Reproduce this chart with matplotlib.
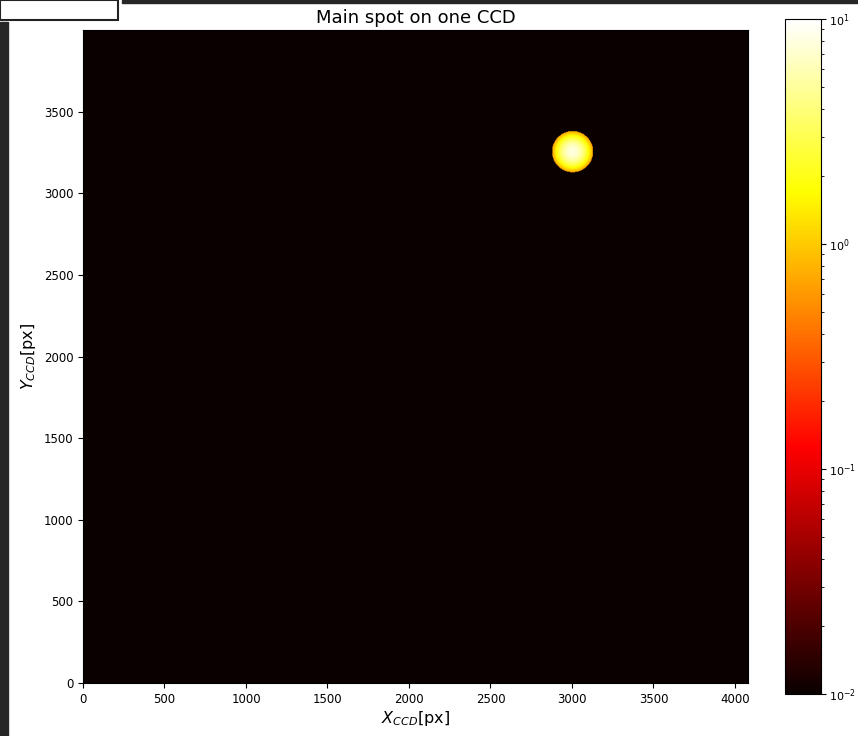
import numpy as np
import matplotlib
matplotlib.use('Agg')
import matplotlib.pyplot as plt
from matplotlib.colors import LogNorm
from matplotlib.patches import Rectangle

# CCD size in pixels
ccd_nx = 4080
ccd_ny = 4000
step = 4  # coarse sampling of the CCD grid

# main spot parameters
spot_x = 3004
spot_y = 3255
spot_radius = 126
spot_peak = 8.0
spot_sigma = 56.0
background = 1e-3

vmin, vmax = 1e-2, 1e1

xs = np.arange(0, ccd_nx, step) + step / 2
ys = np.arange(0, ccd_ny, step) + step / 2
X, Y = np.meshgrid(xs, ys)
r2 = (X - spot_x) ** 2 + (Y - spot_y) ** 2
img = np.full(X.shape, background, dtype=np.float32)
inside = r2 < spot_radius ** 2
img[inside] = spot_peak * np.exp(-r2[inside] / (2 * spot_sigma ** 2))

fig = plt.figure(figsize=(8.58, 7.36), dpi=100)
W, H = 858, 736
ax = fig.add_axes([83 / W, 1 - 683 / H, (748 - 83) / W, (683 - 30) / H])
cax = fig.add_axes([785 / W, 1 - 694 / H, (821 - 785) / W, (694 - 19) / H])

im = ax.imshow(img, origin='lower', cmap='hot', norm=LogNorm(vmin=vmin, vmax=vmax),
               extent=[0, ccd_nx, 0, ccd_ny], aspect='auto')
ax.set_xticks(np.arange(0, 4001, 500))
ax.set_yticks(np.arange(0, 3501, 500))
ax.tick_params(labelsize=8.5)
ax.set_xlabel(r'$X_{CCD}$[px]', fontsize=11.5, labelpad=2)
ax.set_ylabel(r'$Y_{CCD}$[px]', fontsize=11.5, labelpad=4)
ax.set_title('Main spot on one CCD', fontsize=13, pad=5)

cb = fig.colorbar(im, cax=cax)
cb.ax.tick_params(labelsize=8, pad=2.5)

# screenshot frame bits
fig.patches.append(Rectangle((0, 0), 8 / W, 1 - 22 / H, transform=fig.transFigure,
                             color='#262626', zorder=-1))
fig.patches.append(Rectangle((122 / W, 1 - 3 / H), 1, 3 / H, transform=fig.transFigure,
                             color='#262626', zorder=-1))
fig.patches.append(Rectangle((0, 1 - 20 / H), 118 / W, 20 / H, transform=fig.transFigure,
                             facecolor='white', edgecolor='#222222', lw=1.5, zorder=-1))

fig.savefig('out.png', dpi=100)
